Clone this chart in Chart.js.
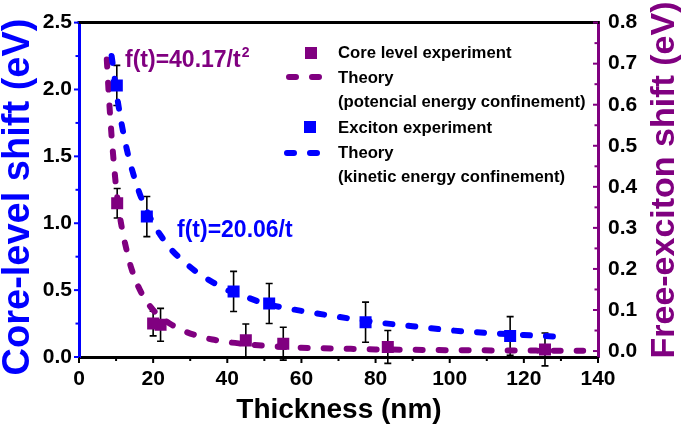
<!DOCTYPE html>
<html>
<head>
<meta charset="utf-8">
<script src="https://cdn.jsdelivr.net/npm/chart.js@4.4.0/dist/chart.umd.min.js"></script>
<style>
  body { margin: 0; background: #fff; }
  #grafico { display: block; }
</style>
</head>
<body>
<canvas id="grafico" width="685" height="429"></canvas>
<script>
// dados
const coreX = [10.3, 20.0, 22.0, 45.0, 55.1, 83.3, 125.7];
const coreY = [0.36, 0.067, 0.064, 0.026, 0.018, 0.010, 0.004];
const coreErr = [0.036, 0.03, 0.04, 0.04, 0.04, 0.04, 0.04];

const excitonX = [10.2, 18.3, 41.7, 51.3, 77.3, 116.3];
const excitonY = [2.03, 1.05, 0.49, 0.40, 0.26, 0.157];
const excitonErr = [0.15, 0.15, 0.15, 0.15, 0.15, 0.145];

const potTheoryX = [7.5, 8, 8.5, 9, 10, 11, 12, 13, 14, 16, 18, 20, 22, 25, 28, 32, 36, 40, 45, 50, 60, 70, 80, 90, 100, 115, 125, 136];
const potTheoryY = [0.71, 0.63, 0.56, 0.50, 0.40, 0.33, 0.28, 0.24, 0.205, 0.157, 0.124, 0.10, 0.083, 0.064, 0.050, 0.037, 0.028, 0.022, 0.017, 0.013, 0.008, 0.006, 0.004, 0.003, 0.002, 0.0015, 0.001, 0.001];

const kinTheoryX = [8.8, 9.5, 10, 11, 12, 13, 14, 16, 18, 20, 22, 25, 28, 32, 36, 40, 45, 50, 55, 60, 70, 80, 90, 100, 110, 120, 132];
const kinTheoryY = [2.25, 2.11, 2.0, 1.82, 1.67, 1.54, 1.43, 1.25, 1.11, 1.0, 0.91, 0.80, 0.72, 0.63, 0.56, 0.50, 0.45, 0.40, 0.37, 0.345, 0.30, 0.26, 0.23, 0.20, 0.18, 0.165, 0.148];

const xTicks = [0, 20, 40, 60, 80, 100, 120, 140];
const yTicks = [0, 0.5, 1.0, 1.5, 2.0, 2.5];
const y2Ticks = [0, 0.1, 0.2, 0.3, 0.4, 0.5, 0.6, 0.7, 0.8];

const legendLabels = ["Core level experiment", "Theory", "(potencial energy confinement)", "Exciton experiment", "Theory", "(kinetic energy confinement)"];
const leftTitle = "Core-level shift (eV)";
const rightTitle = "Free-exciton shift (eV)";
const xTitle = "Thickness (nm)";

const azul = "#0000ff";
const roxo = "#800080";
const fonte = "'Liberation Sans', Arial, sans-serif";

function pontos(xs, ys) {
  return xs.map((x, i) => ({ x: x, y: ys[i] }));
}

// barras de erro, eixos menores e textos
const extras = {
  id: "extras",
  beforeDatasetsDraw(chart) {
    const ctx = chart.ctx;
    const sx = chart.scales.x;
    const series = [
      [coreX, coreY, coreErr, chart.scales.y2],
      [excitonX, excitonY, excitonErr, chart.scales.y],
    ];
    ctx.save();
    ctx.strokeStyle = "#000";
    ctx.lineWidth = 1.6;
    series.forEach(([xs, ys, es, sy]) => {
      xs.forEach((x, i) => {
        const px = sx.getPixelForValue(x);
        const top = sy.getPixelForValue(ys[i] + es[i]);
        const bot = sy.getPixelForValue(ys[i] - es[i]);
        ctx.beginPath();
        ctx.moveTo(px, top); ctx.lineTo(px, bot);
        ctx.moveTo(px - 3.5, top); ctx.lineTo(px + 3.5, top);
        ctx.moveTo(px - 3.5, bot); ctx.lineTo(px + 3.5, bot);
        ctx.stroke();
      });
    });
    ctx.restore();
  },
  afterDraw(chart) {
    const ctx = chart.ctx;
    const { left, right, top, bottom } = chart.chartArea;
    const sx = chart.scales.x, sy = chart.scales.y, sy2 = chart.scales.y2;
    ctx.save();

    // borda superior
    ctx.strokeStyle = "#000";
    ctx.lineWidth = 3;
    ctx.beginPath();
    ctx.moveTo(left - 1.5, top); ctx.lineTo(right + 1.5, top);
    ctx.stroke();

    // marcas dos eixos
    ctx.lineWidth = 2;
    ctx.strokeStyle = "#000";
    xTicks.forEach((v, i) => {
      const p = sx.getPixelForValue(v);
      ctx.beginPath(); ctx.moveTo(p, bottom); ctx.lineTo(p, bottom + 6); ctx.stroke();
      if (i < xTicks.length - 1) {
        const m = sx.getPixelForValue((v + xTicks[i + 1]) / 2);
        ctx.beginPath(); ctx.moveTo(m, bottom); ctx.lineTo(m, bottom + 4); ctx.stroke();
      }
    });
    ctx.strokeStyle = azul;
    yTicks.forEach((v, i) => {
      const p = sy.getPixelForValue(v);
      ctx.beginPath(); ctx.moveTo(left, p); ctx.lineTo(left - 5, p); ctx.stroke();
      if (i < yTicks.length - 1) {
        const m = sy.getPixelForValue((v + yTicks[i + 1]) / 2);
        ctx.beginPath(); ctx.moveTo(left, m); ctx.lineTo(left - 3.5, m); ctx.stroke();
      }
    });
    ctx.strokeStyle = roxo;
    y2Ticks.forEach((v, i) => {
      const p = sy2.getPixelForValue(v);
      ctx.beginPath(); ctx.moveTo(right, p); ctx.lineTo(right - 5, p); ctx.stroke();
      if (i < y2Ticks.length - 1) {
        const m = sy2.getPixelForValue((v + y2Ticks[i + 1]) / 2);
        ctx.beginPath(); ctx.moveTo(right, m); ctx.lineTo(right - 3.5, m); ctx.stroke();
      }
    });

    // títulos dos eixos
    ctx.textAlign = "center";
    ctx.textBaseline = "middle";
    ctx.fillStyle = azul;
    ctx.font = "bold 38px " + fonte;
    ctx.save(); ctx.translate(19, 197); ctx.rotate(-Math.PI / 2); ctx.fillText(leftTitle, 0, 0); ctx.restore();
    ctx.fillStyle = roxo;
    ctx.font = "bold 34px " + fonte;
    ctx.save(); ctx.translate(665, 180); ctx.rotate(-Math.PI / 2); ctx.fillText(rightTitle, 0, 0); ctx.restore();
    ctx.fillStyle = "#000";
    ctx.font = "bold 28px " + fonte;
    ctx.fillText(xTitle, 339, 410);

    // fórmulas
    ctx.textAlign = "left";
    ctx.textBaseline = "alphabetic";
    ctx.fillStyle = roxo;
    ctx.font = "bold 23px " + fonte;
    ctx.fillText("f(t)=40.17/t", 125, 67);
    const w = ctx.measureText("f(t)=40.17/t").width;
    ctx.font = "bold 14px " + fonte;
    ctx.fillText("2", 125 + w + 1, 57);
    ctx.fillStyle = azul;
    ctx.font = "bold 23px " + fonte;
    ctx.fillText("f(t)=20.06/t", 177, 237);

    // legenda
    ctx.textBaseline = "middle";
    ctx.fillStyle = "#000";
    ctx.font = "bold 16.7px " + fonte;
    const ys = [53, 78, 102, 128, 153, 177];
    legendLabels.forEach((t, i) => ctx.fillText(t, 338, ys[i]));
    ctx.fillStyle = roxo;
    ctx.fillRect(305, 47, 12, 12);
    ctx.fillStyle = azul;
    ctx.fillRect(304, 121, 12, 12);
    ctx.lineWidth = 6;
    ctx.lineCap = "round";
    ctx.setLineDash([7, 16]);
    ctx.strokeStyle = roxo;
    ctx.beginPath(); ctx.moveTo(289, 77); ctx.lineTo(320, 77); ctx.stroke();
    ctx.strokeStyle = azul;
    ctx.beginPath(); ctx.moveTo(287, 153); ctx.lineTo(318, 153); ctx.stroke();
    ctx.restore();
  }
};

const tickFont = { family: fonte, size: 21, weight: "bold" };

const config = {
  type: "scatter",
  data: {
    datasets: [
      {
        label: "Theory (potencial energy confinement)",
        data: pontos(potTheoryX, potTheoryY),
        yAxisID: "y2",
        showLine: true,
        pointRadius: 0,
        borderColor: roxo,
        borderWidth: 6,
        borderDash: [7, 16],
        borderCapStyle: "round",
        cubicInterpolationMode: "monotone",
        order: 3,
      },
      {
        label: "Theory (kinetic energy confinement)",
        data: pontos(kinTheoryX, kinTheoryY),
        yAxisID: "y",
        showLine: true,
        pointRadius: 0,
        borderColor: azul,
        borderWidth: 6,
        borderDash: [7, 16],
        borderCapStyle: "round",
        cubicInterpolationMode: "monotone",
        order: 2,
      },
      {
        label: "Core level experiment",
        data: pontos(coreX, coreY),
        yAxisID: "y2",
        pointStyle: "rect",
        pointRadius: 8.5,
        pointBorderWidth: 0,
        backgroundColor: roxo,
        borderColor: roxo,
        order: 1,
      },
      {
        label: "Exciton experiment",
        data: pontos(excitonX, excitonY),
        yAxisID: "y",
        pointStyle: "rect",
        pointRadius: 8.5,
        pointBorderWidth: 0,
        backgroundColor: azul,
        borderColor: azul,
        order: 0,
      },
    ],
  },
  options: {
    responsive: false,
    animation: false,
    devicePixelRatio: 1,
    layout: { padding: { top: 13, left: 0, right: 0, bottom: 0 } },
    plugins: {
      legend: { display: false },
      tooltip: { enabled: false },
    },
    scales: {
      x: {
        type: "linear",
        min: 0,
        max: 140,
        afterBuildTicks: (axis) => { axis.ticks = xTicks.map(v => ({ value: v })); },
        afterFit: (axis) => { axis.height = 72; },
        grid: { display: false, drawTicks: false },
        border: { color: "#000", width: 3 },
        ticks: { color: "#000", font: tickFont, padding: 10, maxRotation: 0 },
      },
      y: {
        position: "left",
        min: 0,
        max: 2.5,
        afterBuildTicks: (axis) => { axis.ticks = yTicks.map(v => ({ value: v })); },
        afterFit: (axis) => { axis.width = 79; },
        grid: { display: false, drawTicks: false },
        border: { color: azul, width: 3 },
        ticks: { color: "#000", font: tickFont, padding: 7, callback: (v) => v.toFixed(1) },
      },
      y2: {
        position: "right",
        min: -0.0145,
        max: 0.8,
        afterBuildTicks: (axis) => { axis.ticks = y2Ticks.map(v => ({ value: v })); },
        afterFit: (axis) => { axis.width = 87; },
        grid: { display: false, drawTicks: false },
        border: { color: roxo, width: 3 },
        ticks: { color: "#000", font: tickFont, padding: 10, callback: (v) => v.toFixed(1) },
      },
    },
  },
  plugins: [extras],
};

let meuGrafico = new Chart(document.getElementById("grafico"), config);
</script>
</body>
</html>
